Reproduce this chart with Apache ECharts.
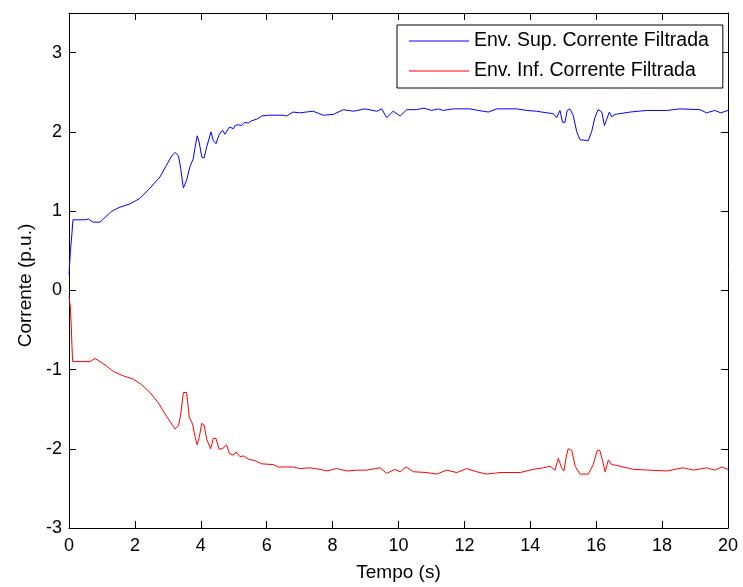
<!DOCTYPE html>
<html>
<head>
<meta charset="utf-8">
<script src="https://cdn.jsdelivr.net/npm/echarts@6/dist/echarts.min.js"></script>
<style>
html,body{margin:0;padding:0;background:#fff;}
#chart{width:743px;height:587px;}
</style>
</head>
<body>
<div id="chart"></div>
<script>
// Upper envelope (blue)
const supT = [0,0.04,0.09,0.12,0.49,0.59,0.73,0.94,1.04,1.3,1.55,1.85,2.15,2.46,2.76,2.96,3.12,3.22,3.32,3.39,3.47,3.52,3.57,3.67,3.77,3.82,3.89,3.95,4.03,4.1,4.18,4.31,4.38,4.46,4.56,4.66,4.73,4.78,4.87,4.99,5.04,5.14,5.24,5.34,5.44,5.54,5.7,5.85,6.05,6.5,6.6,6.8,7.0,7.2,7.41,7.72,8.02,8.33,8.63,8.98,9.34,9.49,9.64,9.84,10.05,10.25,10.55,10.77,11.0,11.21,11.36,11.66,12.17,12.42,12.73,12.98,13.59,13.89,14.19,14.5,14.7,14.8,14.9,14.98,15.05,15.12,15.2,15.3,15.41,15.51,15.76,15.86,15.96,16.06,16.17,16.25,16.32,16.4,16.47,16.57,17.03,17.53,18.14,18.54,19.15,19.35,19.6,19.78,20];
const supV = [0.2,0.48,0.72,0.89,0.89,0.9,0.86,0.86,0.9,1.0,1.05,1.09,1.16,1.29,1.43,1.58,1.70,1.74,1.70,1.54,1.29,1.27,1.39,1.56,1.66,1.79,1.95,1.87,1.68,1.67,1.81,2.0,1.89,1.85,1.97,2.02,1.97,1.95,2.06,2.04,2.08,2.09,2.08,2.12,2.11,2.14,2.16,2.2,2.21,2.21,2.2,2.25,2.24,2.25,2.26,2.21,2.22,2.28,2.26,2.29,2.26,2.29,2.18,2.26,2.2,2.28,2.28,2.3,2.27,2.29,2.27,2.29,2.29,2.27,2.25,2.29,2.29,2.27,2.26,2.24,2.23,2.18,2.27,2.12,2.12,2.27,2.29,2.21,2.0,1.9,1.89,2.0,2.18,2.28,2.25,2.08,2.16,2.25,2.19,2.22,2.25,2.27,2.27,2.29,2.28,2.24,2.27,2.24,2.27];
// Lower envelope (red)
const infT = [0,0.04,0.07,0.09,0.11,0.64,0.79,1.09,1.35,1.65,1.95,2.2,2.46,2.71,2.96,3.12,3.22,3.32,3.39,3.47,3.57,3.65,3.75,3.82,3.89,3.95,4.03,4.1,4.18,4.3,4.38,4.46,4.56,4.68,4.78,4.87,4.99,5.07,5.19,5.29,5.44,5.64,5.85,6.2,6.35,6.81,7.01,7.31,7.62,7.82,8.12,8.43,8.73,9.03,9.44,9.64,9.89,10.05,10.23,10.45,10.86,11.16,11.46,11.77,12.07,12.37,12.68,13.08,13.69,14.09,14.4,14.6,14.75,14.85,14.95,15.02,15.1,15.15,15.26,15.36,15.51,15.76,15.91,16.03,16.11,16.2,16.27,16.37,16.47,16.62,17.13,17.63,18.14,18.64,18.95,19.35,19.6,19.81,20];
const infV = [-0.08,-0.21,-0.46,-0.71,-0.9,-0.9,-0.86,-0.94,-1.025,-1.08,-1.12,-1.19,-1.29,-1.42,-1.59,-1.69,-1.75,-1.71,-1.57,-1.29,-1.29,-1.6,-1.69,-1.84,-1.95,-1.86,-1.68,-1.70,-1.88,-2.0,-1.87,-1.87,-2.01,-1.99,-1.95,-2.06,-2.08,-2.04,-2.1,-2.09,-2.13,-2.15,-2.19,-2.2,-2.23,-2.23,-2.25,-2.24,-2.26,-2.28,-2.25,-2.28,-2.27,-2.27,-2.24,-2.31,-2.26,-2.29,-2.23,-2.29,-2.3,-2.32,-2.27,-2.3,-2.25,-2.29,-2.32,-2.3,-2.3,-2.26,-2.24,-2.22,-2.27,-2.12,-2.24,-2.28,-2.08,-2.0,-2.02,-2.22,-2.32,-2.32,-2.2,-2.02,-2.02,-2.16,-2.29,-2.14,-2.2,-2.21,-2.26,-2.27,-2.28,-2.24,-2.27,-2.24,-2.27,-2.23,-2.26];

const seriesNames = ['Env. Sup. Corrente Filtrada', 'Env. Inf. Corrente Filtrada'];
const xTicks = {min: 0, max: 20, interval: 2};
const yTicks = {min: -3, max: 3.5, interval: 1};

const zip = (a, b) => a.map((t, i) => [t, b[i]]);
const FONT = 'Liberation Sans, Arial, sans-serif';
const chart = echarts.init(document.getElementById('chart'), null, {renderer: 'canvas'});
const tickStyle = {show: true, inside: true, length: 7, lineStyle: {color: '#000', width: 1}};
const axisLine = {show: true, onZero: false, lineStyle: {color: '#000', width: 1}};
const labelStyle = {color: '#000', fontSize: 18, fontFamily: FONT};
chart.setOption({
  animation: false,
  backgroundColor: '#fff',
  grid: {left: 69, right: 15, top: 13, bottom: 53, containLabel: false},
  legend: {
    orient: 'vertical',
    left: 397, top: 25,
    data: seriesNames,
    icon: 'rect',
    itemWidth: 60, itemHeight: 1,
    itemGap: 10,
    padding: [6, 14, 7, 12],
    backgroundColor: '#fff',
    borderColor: '#000', borderWidth: 1,
    textStyle: {color: '#000', fontSize: 19.5, fontFamily: FONT, lineHeight: 20}
  },
  xAxis: [{
    type: 'value', min: xTicks.min, max: xTicks.max, interval: xTicks.interval,
    name: 'Tempo (s)', nameLocation: 'middle', nameGap: 35,
    nameTextStyle: {color: '#000', fontSize: 19, fontFamily: FONT},
    axisLine: axisLine, axisTick: tickStyle,
    axisLabel: Object.assign({margin: 9}, labelStyle),
    splitLine: {show: false}
  }, {
    type: 'value', position: 'top', min: xTicks.min, max: xTicks.max, interval: xTicks.interval,
    axisLine: axisLine, axisTick: tickStyle, axisLabel: {show: false}, splitLine: {show: false}
  }],
  yAxis: [{
    type: 'value', min: yTicks.min, max: yTicks.max, interval: yTicks.interval,
    name: 'Corrente (p.u.)', nameLocation: 'middle', nameGap: 33,
    nameTextStyle: {color: '#000', fontSize: 19, fontFamily: FONT, padding: [0, 30, 0, 0]},
    axisLine: axisLine, axisTick: tickStyle,
    axisLabel: Object.assign({margin: 7, formatter: v => Number.isInteger(v) ? String(v) : ''}, labelStyle),
    splitLine: {show: false}
  }, {
    type: 'value', position: 'right', min: yTicks.min, max: yTicks.max, interval: yTicks.interval,
    axisLine: axisLine, axisTick: tickStyle, axisLabel: {show: false}, splitLine: {show: false}
  }],
  series: [{
    name: seriesNames[0], type: 'line', data: zip(supT, supV),
    showSymbol: false, symbol: 'none', color: '#0000ff',
    lineStyle: {color: '#0000ff', width: 1}
  }, {
    name: seriesNames[1], type: 'line', data: zip(infT, infV),
    showSymbol: false, symbol: 'none', color: '#ff0000',
    lineStyle: {color: '#ff0000', width: 1}
  }]
});
</script>
</body>
</html>
